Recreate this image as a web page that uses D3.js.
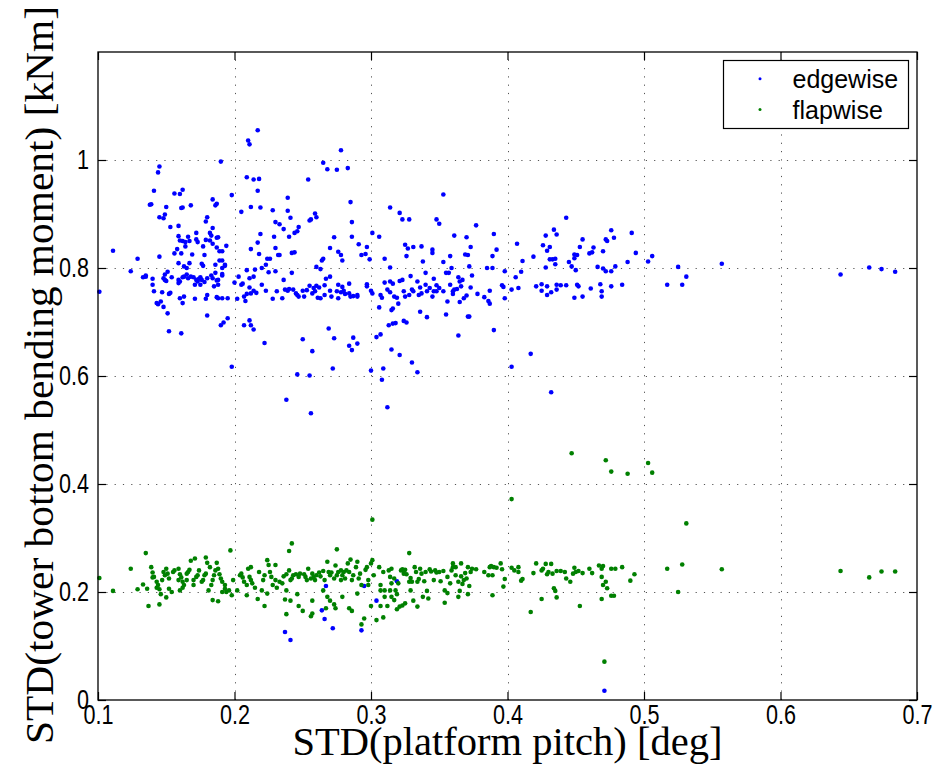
<!DOCTYPE html>
<html>
<head>
<meta charset="utf-8">
<script src="https://cdn.jsdelivr.net/npm/d3@7"></script>
<style>
  html, body { margin: 0; padding: 0; background: #fff; }
  svg { display: block; }
</style>
</head>
<body>
<svg id="chart" width="937" height="765"></svg>
<script>
// ---------------- DATA ----------------
const xTicks = [0.1, 0.2, 0.3, 0.4, 0.5, 0.6, 0.7];
const yTicks = [0, 0.2, 0.4, 0.6, 0.8, 1];
const xTickLabels = ["0.1", "0.2", "0.3", "0.4", "0.5", "0.6", "0.7"];
const yTickLabels = ["0", "0.2", "0.4", "0.6", "0.8", "1"];
const xLabel = "STD(platform pitch) [deg]";
const yLabel = "STD(tower bottom bending moment) [kNm]";
const seriesNames = ["edgewise", "flapwise"];

// edgewise: [STD pitch (deg), STD moment (kNm)]
const edgewisePoints = [
[0.217,1.055],[0.210,1.036],[0.211,1.029],[0.190,0.997],[0.145,0.988],[0.144,0.977],[0.209,0.968],[0.214,0.964],[0.218,0.965],[0.141,0.943],[0.156,0.938],[0.160,0.937],[0.162,0.945],[0.217,0.943],[0.198,0.935],[0.138,0.917],[0.139,0.918],[0.150,0.913],[0.161,0.911],[0.162,0.912],[0.168,0.916],[0.212,0.913],[0.219,0.912],[0.205,0.904],[0.228,0.907],[0.145,0.894],[0.148,0.892],[0.149,0.899],[0.184,0.927],[0.186,0.916],[0.187,0.919],[0.180,0.894],[0.179,0.886],[0.153,0.876],[0.159,0.878],[0.184,0.874],[0.230,0.885],[0.172,0.865],[0.159,0.859],[0.166,0.858],[0.160,0.851],[0.162,0.850],[0.164,0.848],[0.167,0.850],[0.172,0.853],[0.173,0.848],[0.179,0.852],[0.182,0.865],[0.183,0.860],[0.182,0.851],[0.184,0.845],[0.187,0.856],[0.188,0.857],[0.164,0.840],[0.177,0.840],[0.194,0.841],[0.187,0.838],[0.189,0.831],[0.191,0.831],[0.219,0.863],[0.229,0.858],[0.217,0.847],[0.230,0.837],[0.158,0.835],[0.156,0.827],[0.161,0.827],[0.169,0.825],[0.145,0.821],[0.178,0.824],[0.189,0.814],[0.191,0.814],[0.212,0.835],[0.218,0.826],[0.224,0.817],[0.226,0.817],[0.232,0.824],[0.223,0.806],[0.159,0.809],[0.163,0.803],[0.165,0.800],[0.167,0.809],[0.176,0.808],[0.177,0.804],[0.186,0.806],[0.193,0.806],[0.191,0.800],[0.193,0.804],[0.111,0.832],[0.129,0.817],
[0.124,0.794],[0.133,0.783],[0.135,0.784],[0.135,0.786],[0.140,0.780],[0.140,0.769],[0.148,0.781],[0.149,0.778],[0.150,0.776],[0.149,0.788],[0.151,0.793],[0.154,0.783],[0.159,0.778],[0.159,0.772],[0.160,0.775],[0.162,0.783],[0.163,0.784],[0.165,0.788],[0.166,0.781],[0.168,0.784],[0.170,0.783],[0.171,0.769],[0.172,0.778],[0.173,0.775],[0.174,0.780],[0.175,0.783],[0.176,0.778],[0.178,0.774],[0.175,0.769],[0.180,0.781],[0.183,0.786],[0.186,0.791],[0.187,0.777],[0.188,0.778],[0.185,0.766],[0.188,0.769],[0.191,0.789],[0.191,0.786],[0.184,0.781],[0.141,0.757],[0.147,0.755],[0.152,0.752],[0.153,0.754],[0.160,0.744],[0.163,0.747],[0.162,0.735],[0.171,0.743],[0.179,0.743],[0.180,0.750],[0.187,0.746],[0.188,0.744],[0.191,0.744],[0.195,0.744],[0.143,0.735],[0.144,0.733],[0.146,0.738],[0.148,0.728],[0.151,0.716],[0.180,0.712],[0.190,0.694],[0.192,0.699],[0.195,0.707],[0.152,0.683],[0.161,0.679],[0.207,0.694],[0.211,0.703],[0.212,0.694],[0.214,0.686],[0.222,0.661],[0.101,0.756],[0.200,0.773],[0.203,0.784],[0.205,0.769],[0.206,0.771],[0.209,0.796],[0.211,0.781],[0.211,0.764],[0.214,0.784],[0.215,0.797],[0.220,0.769],[0.220,0.800],[0.225,0.792],[0.230,0.794],[0.231,0.757],[0.202,0.743],[0.207,0.747],[0.208,0.739],[0.209,0.752],[0.212,0.753],[0.214,0.758],[0.216,0.754],[0.223,0.758],[0.228,0.743],
[0.278,1.018],[0.265,0.995],[0.268,0.983],[0.275,0.982],[0.283,0.985],[0.254,0.964],[0.353,0.936],[0.285,0.922],[0.239,0.930],[0.239,0.906],[0.233,0.881],[0.241,0.893],[0.236,0.872],[0.255,0.888],[0.256,0.890],[0.259,0.901],[0.260,0.894],[0.247,0.876],[0.246,0.868],[0.244,0.865],[0.240,0.858],[0.286,0.885],[0.286,0.858],[0.273,0.857],[0.291,0.844],[0.297,0.839],[0.293,0.824],[0.296,0.826],[0.299,0.816],[0.301,0.865],[0.306,0.858],[0.314,0.912],[0.321,0.902],[0.323,0.890],[0.328,0.890],[0.348,0.890],[0.350,0.882],[0.325,0.843],[0.327,0.836],[0.331,0.839],[0.337,0.840],[0.345,0.834],[0.345,0.828],[0.326,0.822],[0.310,0.817],[0.314,0.801],[0.338,0.812],[0.353,0.811],[0.358,0.822],[0.233,0.824],[0.242,0.828],[0.244,0.829],[0.270,0.837],[0.276,0.830],[0.278,0.824],[0.279,0.814],[0.265,0.817],[0.264,0.814],[0.260,0.802],[0.263,0.798],
[0.236,0.778],[0.242,0.791],[0.270,0.784],[0.267,0.780],[0.260,0.767],[0.255,0.767],[0.258,0.763],[0.253,0.759],[0.262,0.764],[0.266,0.768],[0.276,0.769],[0.279,0.765],[0.284,0.771],[0.297,0.770],[0.297,0.766],[0.310,0.773],[0.314,0.775],[0.316,0.771],[0.321,0.776],[0.323,0.778],[0.329,0.785],[0.334,0.775],[0.340,0.791],[0.346,0.780],[0.348,0.768],[0.350,0.763],[0.355,0.791],[0.357,0.791],[0.358,0.769],[0.237,0.760],[0.240,0.761],[0.243,0.760],[0.245,0.753],[0.250,0.758],[0.251,0.747],[0.247,0.747],[0.235,0.744],[0.239,0.758],[0.246,0.750],[0.257,0.753],[0.259,0.757],[0.261,0.745],[0.263,0.744],[0.266,0.750],[0.270,0.758],[0.271,0.747],[0.275,0.757],[0.276,0.744],[0.278,0.755],[0.280,0.758],[0.281,0.752],[0.284,0.753],[0.285,0.747],[0.287,0.748],[0.290,0.750],[0.290,0.747],[0.300,0.758],[0.301,0.753],[0.307,0.750],[0.308,0.745],[0.312,0.760],[0.314,0.755],[0.317,0.747],[0.319,0.745],[0.320,0.734],[0.324,0.757],[0.325,0.747],[0.328,0.750],[0.330,0.760],[0.331,0.757],[0.335,0.750],[0.336,0.764],[0.337,0.753],[0.340,0.769],[0.341,0.757],[0.343,0.763],[0.345,0.747],[0.346,0.757],[0.348,0.757],[0.353,0.757],[0.356,0.738],[0.336,0.719],[0.341,0.709],[0.355,0.714],[0.306,0.727],[0.316,0.725],[0.315,0.722],[0.313,0.694],[0.316,0.697],[0.318,0.698],[0.324,0.702],[0.326,0.699],[0.269,0.688],[0.250,0.668],[0.273,0.670],[0.287,0.671],[0.290,0.660],[0.284,0.656],[0.286,0.648],[0.304,0.672],[0.307,0.677],[0.315,0.649],[0.257,0.646],
[0.198,0.617],[0.246,0.603],[0.255,0.601],[0.272,0.614],[0.300,0.610],[0.309,0.614],[0.321,0.639],[0.330,0.625],[0.334,0.607],[0.308,0.593],[0.238,0.556],[0.312,0.542],[0.256,0.531],
[0.377,0.879],[0.361,0.860],[0.370,0.857],[0.390,0.863],[0.373,0.839],[0.392,0.834],[0.369,0.825],[0.371,0.824],[0.389,0.822],[0.407,0.845],[0.411,0.813],[0.419,0.821],[0.426,0.842],[0.428,0.860],[0.434,0.871],[0.436,0.862],[0.431,0.839],[0.429,0.832],[0.431,0.816],[0.433,0.816],[0.435,0.817],[0.435,0.807],[0.443,0.893],[0.453,0.839],[0.455,0.853],[0.463,0.838],[0.460,0.827],[0.462,0.829],[0.470,0.831],[0.472,0.853],[0.473,0.850],[0.476,0.870],[0.478,0.856],[0.449,0.825],[0.449,0.818],[0.451,0.824],[0.445,0.811],[0.447,0.803],[0.372,0.803],[0.359,0.800],[0.385,0.800],[0.389,0.800],[0.428,0.801],[0.450,0.796],[0.466,0.802],[0.470,0.799],[0.472,0.794],[0.476,0.794],[0.479,0.803],[0.374,0.786],[0.364,0.783],[0.367,0.778],[0.365,0.775],[0.398,0.794],[0.406,0.783],[0.410,0.793],[0.366,0.766],[0.373,0.764],[0.396,0.768],[0.397,0.765],[0.403,0.760],[0.408,0.763],[0.421,0.766],[0.425,0.770],[0.429,0.766],[0.443,0.768],[0.436,0.769],[0.439,0.768],[0.451,0.769],[0.452,0.766],[0.468,0.770],[0.476,0.766],[0.461,0.762],[0.425,0.758],[0.429,0.750],[0.432,0.755],[0.436,0.760],[0.469,0.757],[0.469,0.747],[0.449,0.745],[0.455,0.747],[0.360,0.757],[0.361,0.760],[0.363,0.761],[0.360,0.752],[0.368,0.744],[0.370,0.749],[0.378,0.752],[0.383,0.746],[0.387,0.758],[0.386,0.739],[0.387,0.734],[0.398,0.744],[0.365,0.737],[0.371,0.710],[0.372,0.710],[0.390,0.685],[0.364,0.675],
[0.403,0.617],[0.417,0.641],[0.432,0.570],
[0.491,0.865],[0.494,0.828],[0.506,0.822],[0.503,0.812],[0.488,0.811],[0.484,0.769],[0.525,0.802],[0.531,0.784],[0.557,0.808],[0.528,0.769],[0.517,0.769],[0.644,0.788],[0.665,0.801],[0.674,0.798],[0.684,0.793],
[0.237,0.126],[0.241,0.111],[0.267,0.211],[0.264,0.166],[0.266,0.150],[0.272,0.133],[0.293,0.129],[0.295,0.211],[0.304,0.184],[0.319,0.220],[0.471,0.017]
];

// flapwise: [STD pitch (deg), STD moment (kNm)]
const flapwisePoints = [
[0.101,0.226],[0.111,0.202],[0.124,0.243],[0.135,0.272],[0.129,0.205],[0.133,0.214],[0.136,0.206],[0.137,0.174],[0.145,0.177],[0.139,0.246],[0.140,0.236],[0.140,0.227],[0.141,0.228],[0.143,0.219],[0.144,0.213],[0.143,0.208],[0.145,0.205],[0.146,0.196],[0.150,0.190],[0.147,0.222],[0.149,0.231],[0.148,0.237],[0.150,0.243],[0.151,0.234],[0.152,0.225],[0.152,0.206],[0.154,0.200],[0.155,0.237],[0.156,0.240],[0.159,0.243],[0.160,0.233],[0.159,0.222],[0.161,0.227],[0.162,0.219],[0.162,0.208],[0.160,0.203],[0.163,0.213],[0.165,0.222],[0.165,0.234],[0.166,0.237],[0.167,0.241],[0.168,0.258],[0.171,0.262],[0.170,0.222],[0.170,0.213],[0.172,0.228],[0.173,0.231],[0.174,0.240],[0.176,0.219],[0.177,0.222],[0.178,0.231],[0.179,0.234],[0.179,0.264],[0.180,0.254],[0.182,0.246],[0.181,0.203],[0.183,0.213],[0.184,0.222],[0.185,0.231],[0.186,0.240],[0.187,0.254],[0.188,0.243],[0.189,0.233],[0.190,0.225],[0.191,0.219],[0.193,0.213],[0.193,0.206],[0.191,0.200],[0.194,0.200],[0.196,0.203],[0.184,0.185],[0.188,0.183],[0.198,0.194],[0.197,0.277],[0.199,0.222],[0.202,0.203],[0.204,0.231],[0.205,0.234],[0.206,0.227],[0.207,0.219],[0.209,0.213],[0.209,0.194],[0.210,0.243],[0.212,0.246],[0.211,0.228],[0.212,0.222],[0.213,0.216],[0.215,0.208],[0.217,0.187],[0.218,0.237],[0.220,0.203],[0.221,0.222],[0.222,0.231],[0.222,0.174],[0.224,0.259],[0.224,0.197],[0.226,0.237],[0.225,0.250],[0.227,0.228],[0.228,0.213],[0.230,0.250],[0.230,0.222],[0.231,0.208],
[0.301,0.334],[0.242,0.290],[0.240,0.276],[0.275,0.279],[0.328,0.272],[0.233,0.219],[0.235,0.216],[0.236,0.229],[0.238,0.233],[0.240,0.240],[0.241,0.222],[0.242,0.225],[0.243,0.231],[0.245,0.233],[0.247,0.228],[0.248,0.234],[0.251,0.233],[0.252,0.228],[0.253,0.222],[0.254,0.243],[0.256,0.225],[0.257,0.234],[0.258,0.228],[0.259,0.222],[0.260,0.231],[0.262,0.236],[0.263,0.229],[0.265,0.239],[0.266,0.222],[0.268,0.256],[0.269,0.237],[0.270,0.231],[0.271,0.236],[0.273,0.225],[0.274,0.249],[0.275,0.231],[0.276,0.237],[0.278,0.240],[0.278,0.222],[0.279,0.231],[0.280,0.237],[0.281,0.225],[0.282,0.240],[0.283,0.253],[0.284,0.237],[0.285,0.260],[0.286,0.222],[0.287,0.231],[0.289,0.246],[0.290,0.256],[0.291,0.225],[0.292,0.234],[0.293,0.213],[0.296,0.241],[0.297,0.246],[0.298,0.222],[0.298,0.213],[0.300,0.253],[0.301,0.259],[0.302,0.231],[0.306,0.246],[0.307,0.213],[0.309,0.237],[0.310,0.203],[0.313,0.240],[0.315,0.243],[0.314,0.228],[0.315,0.216],[0.317,0.225],[0.318,0.203],[0.319,0.196],[0.320,0.216],[0.322,0.240],[0.323,0.242],[0.324,0.239],[0.324,0.234],[0.325,0.241],[0.326,0.233],[0.328,0.219],[0.329,0.203],[0.329,0.226],[0.330,0.219],[0.332,0.246],[0.333,0.237],[0.334,0.219],[0.335,0.224],[0.336,0.243],[0.337,0.234],[0.339,0.220],[0.340,0.237],[0.341,0.202],[0.343,0.242],[0.344,0.238],[0.346,0.222],[0.347,0.240],[0.348,0.236],
[0.237,0.186],[0.238,0.203],[0.241,0.184],[0.246,0.196],[0.247,0.174],[0.250,0.165],[0.256,0.155],[0.257,0.160],[0.257,0.184],[0.265,0.203],[0.267,0.170],[0.268,0.191],[0.270,0.184],[0.273,0.177],[0.274,0.170],[0.279,0.191],[0.284,0.170],[0.286,0.165],[0.290,0.197],[0.293,0.140],[0.295,0.151],[0.300,0.174],[0.304,0.148],[0.307,0.203],[0.309,0.153],[0.307,0.174],[0.310,0.191],[0.312,0.174],[0.314,0.203],[0.315,0.191],[0.317,0.185],[0.319,0.168],[0.321,0.173],[0.323,0.175],[0.325,0.179],[0.334,0.173],[0.338,0.191],[0.342,0.188],[0.331,0.184],[0.238,0.159],
[0.447,0.457],[0.472,0.444],[0.476,0.423],[0.488,0.419],[0.403,0.372],[0.350,0.237],[0.353,0.239],[0.351,0.220],[0.354,0.203],[0.356,0.198],[0.354,0.180],[0.356,0.228],[0.358,0.216],[0.359,0.240],[0.360,0.246],[0.360,0.253],[0.362,0.231],[0.362,0.246],[0.364,0.219],[0.364,0.191],[0.365,0.202],[0.366,0.229],[0.366,0.253],[0.367,0.215],[0.368,0.222],[0.369,0.235],[0.370,0.225],[0.371,0.246],[0.371,0.196],[0.372,0.211],[0.373,0.237],[0.374,0.243],[0.377,0.242],[0.383,0.237],[0.386,0.231],[0.387,0.246],[0.388,0.248],[0.389,0.231],[0.389,0.194],[0.390,0.246],[0.392,0.245],[0.395,0.253],[0.396,0.242],[0.398,0.224],[0.397,0.210],[0.403,0.245],[0.405,0.240],[0.408,0.246],[0.408,0.237],[0.410,0.221],[0.411,0.224],[0.417,0.163],[0.419,0.235],[0.421,0.253],[0.425,0.187],[0.425,0.240],[0.426,0.243],[0.428,0.252],[0.429,0.233],[0.430,0.237],[0.432,0.252],[0.433,0.234],[0.434,0.207],[0.435,0.202],[0.436,0.190],[0.436,0.239],[0.439,0.239],[0.442,0.237],[0.443,0.225],[0.446,0.219],[0.448,0.234],[0.449,0.245],[0.450,0.237],[0.452,0.239],[0.453,0.174],[0.455,0.235],[0.460,0.243],[0.462,0.235],[0.467,0.249],[0.469,0.243],[0.469,0.228],[0.470,0.248],[0.470,0.213],[0.472,0.219],[0.473,0.207],[0.476,0.193],[0.478,0.193],[0.476,0.243],[0.479,0.243],[0.484,0.246],[0.490,0.221],[0.493,0.233],[0.469,0.187],[0.471,0.071],
[0.503,0.439],[0.506,0.421],[0.531,0.327],[0.517,0.243],[0.528,0.251],[0.525,0.200],[0.557,0.242],[0.644,0.239],[0.665,0.227],[0.674,0.238],[0.684,0.238]
];

const seriesColors = ["#0000ff", "#008000"];

// ---------------- LAYOUT ----------------
const W = 937, H = 765;
const plot = { left: 98, right: 917, top: 52, bottom: 700 };

const svg = d3.select("#chart");
svg.append("rect").attr("width", W).attr("height", H).attr("fill", "#fff");

const x = d3.scaleLinear().domain([0.1, 0.7]).range([plot.left, plot.right]);
const y = d3.scaleLinear().domain([0, 1.2]).range([plot.bottom, plot.top]);

// grid
const grid = svg.append("g").attr("class", "grid")
  .attr("stroke", "#555").attr("stroke-width", 1).attr("stroke-dasharray", "1.2,7.1");
grid.selectAll("line.vx").data(xTicks.filter(d => d > 0.1 && d < 0.7)).enter().append("line")
  .attr("x1", d => Math.round(x(d)) + 0.5).attr("x2", d => Math.round(x(d)) + 0.5)
  .attr("y1", plot.bottom).attr("y2", plot.top);
grid.selectAll("line.hy").data(yTicks.filter(d => d > 0)).enter().append("line")
  .attr("x1", plot.left).attr("x2", plot.right)
  .attr("y1", d => Math.round(y(d)) + 0.5).attr("y2", d => Math.round(y(d)) + 0.5);

// points
const seriesData = [edgewisePoints, flapwisePoints];
seriesData.forEach((pts, i) => {
  svg.append("g").attr("fill", seriesColors[i])
    .selectAll("circle").data(pts).enter().append("circle")
    .attr("cx", d => x(d[0])).attr("cy", d => y(d[1])).attr("r", 2.3);
});

// axes (inward ticks on all 4 sides)
const tickFont = "'Liberation Sans', Arial, Helvetica, sans-serif";
const axB = svg.append("g").attr("transform", `translate(0,${plot.bottom})`)
  .call(d3.axisBottom(x).tickValues(xTicks).tickFormat((d, i) => xTickLabels[i])
    .tickSizeInner(-8).tickSizeOuter(0).tickPadding(5));
const axT = svg.append("g").attr("transform", `translate(0,${plot.top})`)
  .call(d3.axisTop(x).tickValues(xTicks).tickFormat("").tickSizeInner(-8).tickSizeOuter(0));
const axL = svg.append("g").attr("transform", `translate(${plot.left},0)`)
  .call(d3.axisLeft(y).tickValues(yTicks).tickFormat((d, i) => yTickLabels[i])
    .tickSizeInner(-8).tickSizeOuter(0).tickPadding(9));
const axR = svg.append("g").attr("transform", `translate(${plot.right},0)`)
  .call(d3.axisRight(y).tickValues(yTicks).tickFormat("").tickSizeInner(-8).tickSizeOuter(0));

[axB, axT, axL, axR].forEach(a => {
  a.select(".domain").remove();
  a.selectAll("line").attr("stroke", "#000").attr("stroke-width", 1.2);
  a.selectAll("text").attr("font-family", tickFont).attr("font-size", 27).attr("fill", "#000")
    .each(function () {
      const w = this.getComputedTextLength();
      d3.select(this).attr("textLength", w * 0.8).attr("lengthAdjust", "spacingAndGlyphs");
    });
});

// frame
svg.append("rect")
  .attr("x", plot.left).attr("y", plot.top)
  .attr("width", plot.right - plot.left).attr("height", plot.bottom - plot.top)
  .attr("fill", "none").attr("stroke", "#000").attr("stroke-width", 1.3);

// axis labels
const labelFont = "'Liberation Serif', 'DejaVu Serif', 'Times New Roman', serif";
svg.append("text")
  .attr("x", (plot.left + plot.right) / 2).attr("y", 755)
  .attr("text-anchor", "middle").attr("font-family", labelFont).attr("font-size", 41)
  .attr("textLength", 430).attr("lengthAdjust", "spacingAndGlyphs")
  .attr("fill", "#000").text(xLabel);
svg.append("text")
  .attr("transform", `translate(53,${(plot.top + plot.bottom) / 2 - 1}) rotate(-90)`)
  .attr("text-anchor", "middle").attr("font-family", labelFont).attr("font-size", 41)
  .attr("textLength", 738).attr("lengthAdjust", "spacingAndGlyphs")
  .attr("fill", "#000").text(yLabel);

// legend
const lg = svg.append("g");
lg.append("rect").attr("x", 723.5).attr("y", 60.5).attr("width", 185).attr("height", 68)
  .attr("fill", "#fff").attr("stroke", "#000").attr("stroke-width", 1.2);
const legendRows = [88.3, 119];
seriesNames.forEach((name, i) => {
  lg.append("circle").attr("cx", 760).attr("cy", legendRows[i] - 9.5).attr("r", 1.5)
    .attr("fill", seriesColors[i]);
  lg.append("text").attr("x", 792.5).attr("y", legendRows[i])
    .attr("font-family", tickFont).attr("font-size", 25).attr("fill", "#000").text(name);
});
</script>
</body>
</html>
